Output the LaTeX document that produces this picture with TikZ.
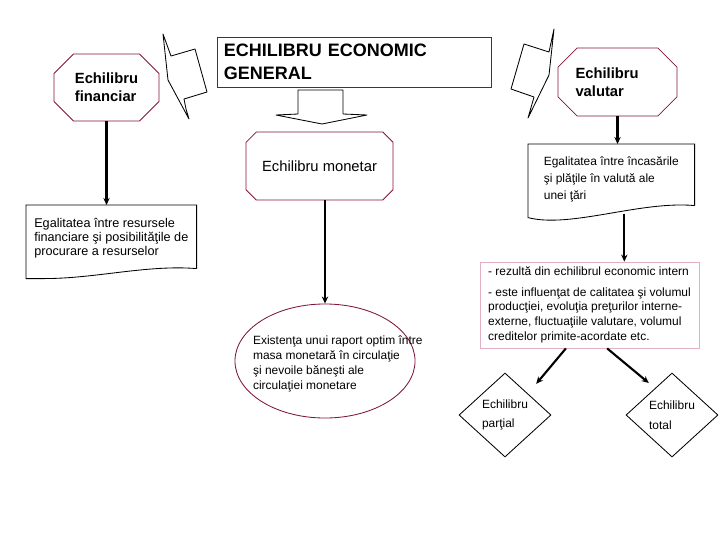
\documentclass[tikz,border=0pt]{standalone}
\usepackage{fontspec}
\setmainfont{Liberation Sans}
\usepackage{tikz}
\usetikzlibrary{positioning,shapes.geometric,shapes.misc,arrows.meta,calc}
\definecolor{bordo}{RGB}{128,20,64}
\definecolor{roz}{RGB}{226,176,196}

\begin{document}
\begin{tikzpicture}[
    x=0.025cm,
    y=-0.025cm,
    >=Stealth,
    oct/.style={
        chamfered rectangle,
        chamfered rectangle xsep=0.5cm,
        draw=bordo,
        line width=0.6pt,
        align=left,
        inner sep=0pt
    },
    doc/.style={
        inner xsep=0.2cm,
        inner ysep=0pt,
        align=left,
        anchor=north west,
        font=\fontsize{8.5}{12}\selectfont
    },
    docline/.style={draw=black, line width=0.6pt},
    bolt/.style={draw=black, line width=0.6pt, fill=white, line join=round},
    choice/.style={
        diamond,
        draw=black,
        line width=0.6pt,
        inner sep=0pt,
        minimum width=2.3cm,
        minimum height=2.1cm,
        align=left,
        font=\fontsize{8.5}{14}\selectfont
    },
    arr/.style={-{Stealth[length=5pt,width=4.5pt]}, line width=1.5pt}
]
\useasboundingbox (0,0) rectangle (720,540);

% top row
\node[oct, minimum width=2.625cm, minimum height=1.675cm,
      font=\fontsize{10.5}{13}\selectfont\bfseries] (fin) at (106.5,87.5)
{Echilibru\\financiar};

\node[draw=bordo, line width=0.6pt, minimum width=6.85cm, minimum height=1.25cm,
      text width=6.5cm, align=left, inner xsep=0.17cm,
      font=\fontsize{12.8}{16}\selectfont\bfseries] (gen) at (354,62)
{ECHILIBRU ECONOMIC\\GENERAL};

\node[oct, minimum width=2.975cm, minimum height=1.7cm, text width=2.1cm,
      font=\fontsize{10.5}{12.5}\selectfont\bfseries] (val) at (617.5,82)
{Echilibru\\valutar};

% lightning shapes and the block arrow
\draw[bolt] (163,34) -- (171,56) -- (195,49) -- (207,92) -- (184,99)
    -- (186,109) -- (189,119) -- (168,80) -- cycle;
\draw[bolt] (554,29) -- (549,52) -- (524,44) -- (511,89) -- (534,97)
    -- (528,118) -- (549,75) -- cycle;
\draw[bolt] (298,90) -- (343,90) -- (343,114) -- (367,115) -- (322,124)
    -- (276,115) -- (298,114) -- cycle;

% second row
\node[oct, minimum width=3.675cm, minimum height=1.7cm,
      font=\fontsize{10.5}{12.5}\selectfont] (mon) at (319.5,166)
{Echilibru monetar};

\node[doc, minimum width=4.15cm, minimum height=1.525cm] (docval) at (528,144)
{\rule{0pt}{13pt}Egalitatea între încasările\\şi plăţile în valută ale\\unei ţări};
\draw[docline] (docval.south east) -- (docval.north east) -- (docval.north west)
    -- ($(docval.south west)+(0,12)$)
    .. controls ($(docval.south west)+(42,23)$) and ($(docval.south east)+(-54,-5)$)
    .. (docval.south east);

\node[doc, minimum width=4.225cm, minimum height=1.575cm,
      font=\fontsize{9}{10}\selectfont] (docfin) at (26,205)
{\rule{0pt}{9pt}Egalitatea între resursele\\financiare şi posibilităţile de\\procurare a resurselor};
\draw[docline] (docfin.south east) -- (docfin.north east) -- (docfin.north west)
    -- ($(docfin.south west)+(0,10)$) -- ($(docfin.south west)+(18,10)$)
    .. controls ($(docfin.south west)+(70,10)$) and ($(docfin.south east)+(-50,-4)$)
    .. (docfin.south east);

% third row
\node[draw=roz, line width=0.6pt, minimum width=5.475cm, minimum height=2cm,
      align=left, inner xsep=0.12cm,
      font=\fontsize{8.5}{10.6}\selectfont] (rez) at (589.5,305)
{- rezultă din echilibrul economic intern\\[4pt]
 - este influenţat de calitatea şi volumul\\
 producţiei, evoluţia preţurilor interne-\\
 externe, fluctuaţiile valutare, volumul\\
 creditelor primite-acordate etc.};

\node[ellipse, draw=bordo, line width=0.6pt, minimum width=4.5cm,
      minimum height=2.85cm] (ell) at (325,361) {};
\node[align=left, font=\fontsize{8.5}{10.7}\selectfont]
    (elltext) at ([xshift=0.32cm,yshift=-0.07cm]ell.center)
{Existenţa unui raport optim între\\masa monetară în circulaţie\\şi nevoile băneşti ale\\circulaţiei monetare};

\node[choice] (part) at (505,415) {Echilibru\\parţial};
\node[choice] (tot) at (672,415) {Echilibru\\total};

% connectors
\draw[arr] (fin.south) -- (fin.south |- docfin.north);
\draw[arr] (ell.north |- mon.south) -- (ell.north);
\draw[arr] (val.south) -- (val.south |- docval.north);
\draw[arr] ([xshift=0.325cm,yshift=-0.2cm]docval.south) -- ([xshift=0.325cm]docval.south |- rez.north);
\draw[arr] ([xshift=-0.59cm]rez.south) -- ([xshift=0.2cm,yshift=0.25cm]part.north east);
\draw[arr] ([xshift=0.44cm]rez.south) -- ([yshift=0.27cm]tot.north west);

\end{tikzpicture}
\end{document}
